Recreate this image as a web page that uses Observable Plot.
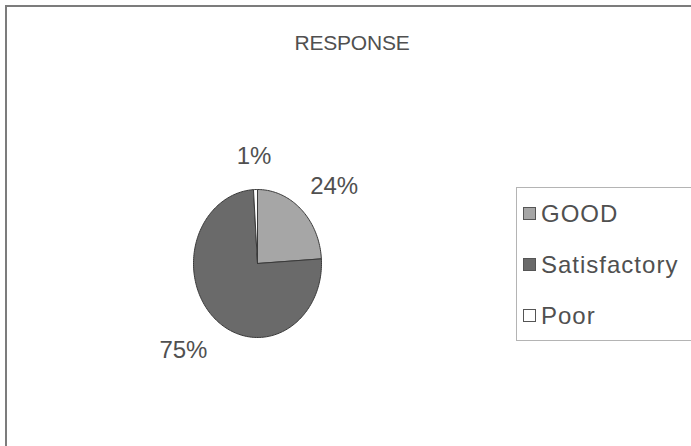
<!DOCTYPE html>
<html><head><meta charset="utf-8">
<script src="https://cdn.jsdelivr.net/npm/d3@7"></script>
<script src="https://cdn.jsdelivr.net/npm/@observablehq/plot@0.6"></script>
<style>
body{margin:0;background:#fff;font-family:"Liberation Sans",Arial,sans-serif;}
#wrap{position:relative;width:691px;height:446px;overflow:hidden;background:#fff;}
#wrap svg{position:absolute;left:0;top:0;}
#frame{position:absolute;left:5px;top:5px;width:720px;height:480px;border-left:2px solid #7c7c7c;border-top:2px solid #7c7c7c;}
#title{position:absolute;left:2px;width:700px;top:31px;height:24px;line-height:24px;text-align:center;font-size:21px;color:#505050;letter-spacing:-0.2px;}
#legend{position:absolute;left:516px;top:187px;width:220px;height:154px;border:1px solid #b4b4b4;box-sizing:border-box;}
.item{position:absolute;left:6px;height:26px;line-height:26px;font-size:24px;color:#505050;letter-spacing:1px;white-space:nowrap;}
.sw{display:inline-block;width:13px;height:13px;border:1px solid #555;box-sizing:border-box;margin-right:5px;vertical-align:middle;position:relative;top:-2px;}
</style>
</head><body>
<div id="wrap"><div id="frame"></div><div id="title"></div><div id="legend"></div></div>
<script>
const title = "RESPONSE";
const categories = ["GOOD", "Satisfactory", "Poor"];
const values = [24, 75, 1];
const labels = ["24%", "75%", "1%"];
const colors = ["#a6a6a6", "#6a6a6a", "#ffffff"];

const total = d3.sum(values);
const slices = [];
let cum = 0;
categories.forEach((c, i) => {
  const a0 = cum / total * 2 * Math.PI;
  cum += values[i];
  const a1 = cum / total * 2 * Math.PI;
  slices.push({category: c, a0, a1, mid: (a0 + a1) / 2, label: labels[i]});
});
const pts = [];
for (const s of slices) {
  pts.push({category: s.category, x: 0, y: 0});
  const n = Math.max(2, Math.ceil((s.a1 - s.a0) / (2 * Math.PI) * 240));
  for (let k = 0; k <= n; k++) {
    const a = s.a0 + (s.a1 - s.a0) * k / n;
    pts.push({category: s.category, x: Math.sin(a), y: Math.cos(a)});
  }
  pts.push({category: s.category, x: 0, y: 0});
}

const cx = 257, cy = 263, rx = 64, ry = 74;
const chart = Plot.plot({
  width: 691, height: 446,
  margin: 0,
  x: {domain: [-1, 1], range: [cx - rx, cx + rx], axis: null},
  y: {domain: [-1, 1], range: [cy + ry, cy - ry], axis: null},
  color: {domain: categories, range: colors},
  style: {background: "transparent", fontFamily: "Liberation Sans, Arial, sans-serif"},
  marks: [
    Plot.line(pts, {x: "x", y: "y", z: "category", fill: "category", stroke: "#3a3a3a", strokeWidth: 1, curve: "linear"}),
    Plot.text(slices, {x: d => Math.sin(d.mid) * 1.75, y: d => Math.cos(d.mid) * 1.5, dy: 4, text: "label", fontSize: 24, fill: "#505050"})
  ]
});
document.getElementById("wrap").insertBefore(chart, document.getElementById("frame"));
document.getElementById("title").textContent = title;
const leg = document.getElementById("legend");
categories.forEach((c, i) => {
  const it = document.createElement("div");
  it.className = "item";
  it.style.top = (13 + i * 51) + "px";
  const sw = document.createElement("span");
  sw.className = "sw";
  sw.style.background = colors[i];
  it.appendChild(sw);
  it.appendChild(document.createTextNode(c));
  leg.appendChild(it);
});
</script>
</body></html>
